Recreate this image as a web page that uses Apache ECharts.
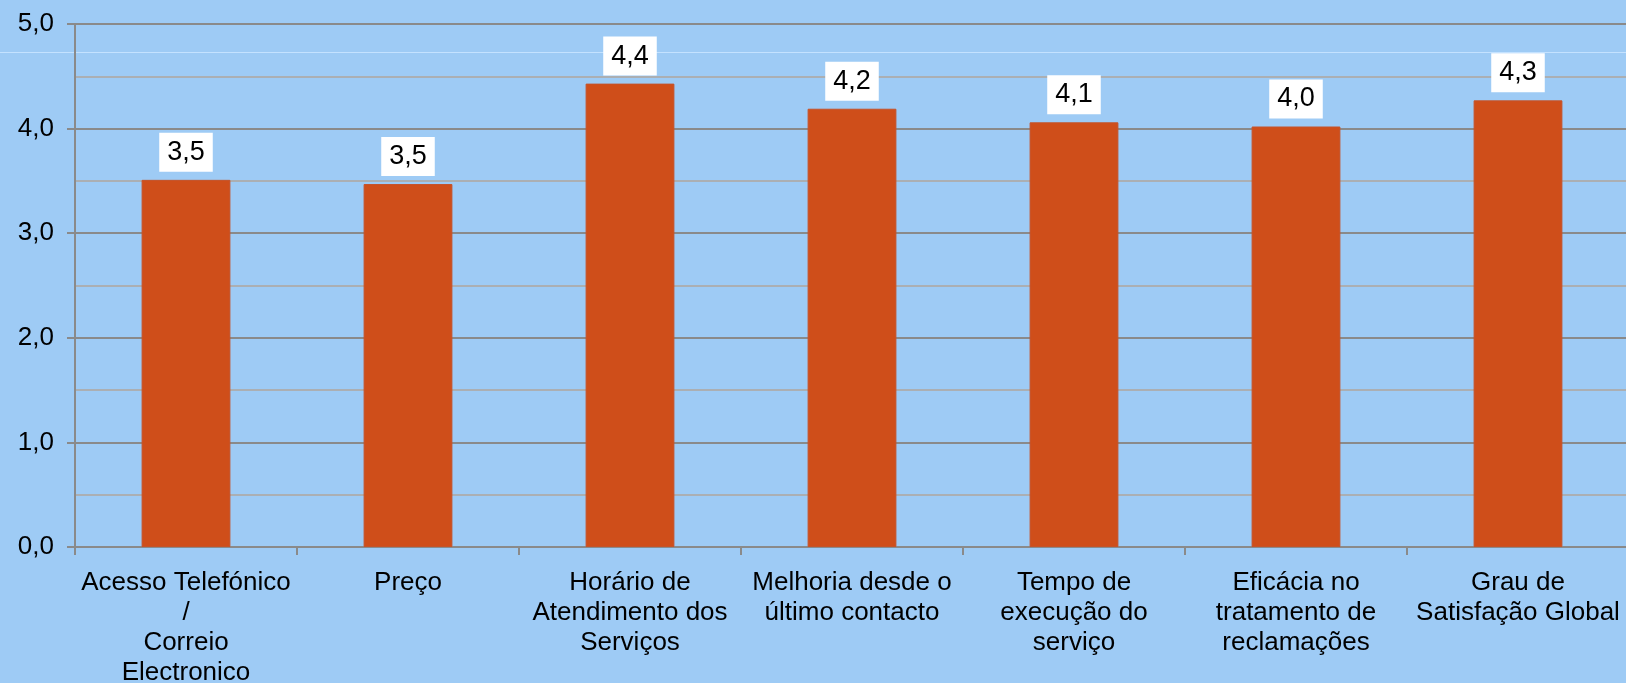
<!DOCTYPE html>
<html>
<head>
<meta charset="utf-8">
<script src="https://cdn.jsdelivr.net/npm/echarts@6/dist/echarts.min.js"></script>
<style>
html,body{margin:0;padding:0;background:#9ecbf5;}
#c{width:1626px;height:683px;}
</style>
</head>
<body>
<div id="c"></div>
<script>
const categories = [
  'Acesso Telefónico\n/\nCorreio\nElectronico',
  'Preço',
  'Horário de\nAtendimento dos\nServiços',
  'Melhoria desde o\núltimo contacto',
  'Tempo de\nexecução do\nserviço',
  'Eficácia no\ntratamento de\nreclamações',
  'Grau de\nSatisfação Global'
];
const values = [3.51, 3.47, 4.43, 4.19, 4.06, 4.02, 4.27];
const yTicks = { min: 0, max: 5, interval: 1 };

const fmt = v => (Math.round(v * 10) / 10).toFixed(1).replace('.', ',');
const FONT = 'Liberation Sans, Arial, sans-serif';
const chart = echarts.init(document.getElementById('c'), null, { renderer: 'canvas' });
chart.setOption({
  backgroundColor: '#9ecbf5',
  animation: false,
  textStyle: { fontFamily: FONT },
  graphic: [{
    type: 'rect', silent: true, z: -1,
    shape: { x: 0, y: 52, width: 1626, height: 1 },
    style: { fill: '#c4e2ff' }
  }],
  grid: { left: 75, right: -3, top: 24, bottom: 136, containLabel: false, outerBoundsMode: 'none' },
  xAxis: {
    type: 'category',
    data: categories,
    axisLine: { lineStyle: { color: '#8a8a8a', width: 2 } },
    axisTick: { show: true, length: 8, lineStyle: { color: '#8a8a8a', width: 2 } },
    axisLabel: {
      interval: 0, color: '#000', fontSize: 26, lineHeight: 30, margin: 21,
      fontFamily: FONT
    }
  },
  yAxis: {
    type: 'value',
    min: yTicks.min, max: yTicks.max, interval: yTicks.interval,
    axisLine: { show: true, lineStyle: { color: '#8a8a8a', width: 2 } },
    axisTick: { show: true, length: 8, lineStyle: { color: '#8a8a8a', width: 2 } },
    axisLabel: { color: '#000', fontSize: 26, margin: 21, formatter: fmt, fontFamily: FONT },
    splitLine: { show: true, lineStyle: { color: '#8a8a8a', width: 2 } },
    minorTick: { show: false, splitNumber: 2 },
    minorSplitLine: { show: true, lineStyle: { color: '#abafb3', width: 2 } }
  },
  series: [{
    type: 'bar',
    data: values,
    barWidth: '40%',
    itemStyle: { color: '#cf4e1a', borderColor: '#c5532a', borderWidth: 1 },
    label: {
      show: true, position: 'top', distance: 8,
      formatter: p => fmt(p.value),
      backgroundColor: '#ffffff', color: '#000',
      fontSize: 27, lineHeight: 27, padding: [6, 8, 6, 8],
      fontFamily: FONT
    }
  }]
});
</script>
</body>
</html>
